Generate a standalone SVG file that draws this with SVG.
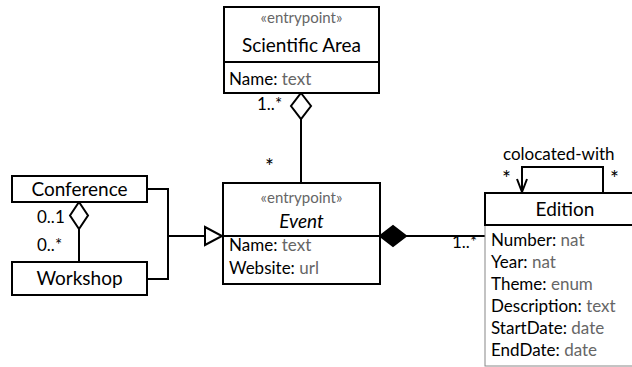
<svg xmlns="http://www.w3.org/2000/svg" width="632" height="367" viewBox="0 0 632 367">
<style>
text{font-family:Lato,"Open Sans","DejaVu Sans",sans-serif;fill:#000}
.st{font-size:15px;fill:#666}
.nm{font-size:19px}
.at{font-size:17px}
.ty{fill:#666}
.ml{font-size:17px}
.ast{font-size:21px}
.box{fill:#fff;stroke:#000;stroke-width:2}
.ln{fill:none;stroke:#000;stroke-width:2}
</style>
<rect width="632" height="367" fill="#fff"/>
<g id="connectors">
<line class="ln" x1="301" y1="119" x2="301" y2="183"/>
<polygon points="301,93 311,106 301,119 291,106" fill="#fff" stroke="#000" stroke-width="2"/>
<line class="ln" x1="79" y1="229" x2="79" y2="262"/>
<polygon points="79,202 88,215.5 79,229 70,215.5" fill="#fff" stroke="#000" stroke-width="2"/>
<polyline class="ln" points="147,189 168,189 168,279 147,279"/>
<line class="ln" x1="168" y1="236" x2="205" y2="236"/>
<polygon points="205,227 222,236 205,245" fill="#fff" stroke="#000" stroke-width="2"/>
<line class="ln" x1="406" y1="236" x2="485" y2="236"/>
<polygon points="380,236 393,226 406,236 393,246" fill="#000" stroke="#000" stroke-width="2"/>
<polyline class="ln" points="603,193 603,167 522,167 522,192"/>
<polyline class="ln" points="517,179 522,192 527,179"/>
<text class="ml" x="257" y="110">1..*</text>
<text class="ml ast" x="265" y="174">*</text>
<text class="ml" x="37" y="223">0..1</text>
<text class="ml" x="37" y="251">0..*</text>
<text class="ml" x="452" y="248">1..*</text>
<text class="ml" x="503" y="160" font-size="18">colocated-with</text>
<text class="ml ast" x="502" y="186">*</text>
<text class="ml ast" x="610" y="186">*</text>
</g>
<g id="scientific-area">
<rect class="box" x="224" y="7" width="155" height="86"/>
<line class="ln" x1="224" y1="62" x2="379" y2="62"/>
<text class="st" x="301.5" y="23" text-anchor="middle">«entrypoint»</text>
<text class="nm" x="301.5" y="52" text-anchor="middle">Scientific Area</text>
<text class="at" x="229" y="85">Name: <tspan class="ty">text</tspan></text>
</g>
<g id="event">
<rect class="box" x="223" y="183" width="157" height="101"/>
<line class="ln" x1="223" y1="236" x2="380" y2="236"/>
<text class="st" x="301.5" y="203" text-anchor="middle">«entrypoint»</text>
<text class="nm" x="301.5" y="228" text-anchor="middle" font-style="italic">Event</text>
<text class="at" x="229" y="251">Name: <tspan class="ty">text</tspan></text>
<text class="at" x="229" y="274">Website: <tspan class="ty">url</tspan></text>
</g>
<g id="conference">
<rect class="box" x="12" y="176" width="135" height="26"/>
<text class="nm" x="79.5" y="196" text-anchor="middle">Conference</text>
</g>
<g id="workshop">
<rect class="box" x="12" y="262" width="135" height="33"/>
<text class="nm" x="79.5" y="285" text-anchor="middle">Workshop</text>
</g>
<g id="edition">
<rect x="485" y="225" width="170" height="141" fill="#fff" stroke="#888" stroke-width="1"/>
<rect class="box" x="485" y="193" width="170" height="32"/>
<text class="nm" x="565" y="216" text-anchor="middle">Edition</text>
<text class="at" x="491" y="246">Number: <tspan class="ty">nat</tspan></text>
<text class="at" x="491" y="268">Year: <tspan class="ty">nat</tspan></text>
<text class="at" x="491" y="290">Theme: <tspan class="ty">enum</tspan></text>
<text class="at" x="491" y="312">Description: <tspan class="ty">text</tspan></text>
<text class="at" x="491" y="334">StartDate: <tspan class="ty">date</tspan></text>
<text class="at" x="491" y="356">EndDate: <tspan class="ty">date</tspan></text>
</g>
</svg>
